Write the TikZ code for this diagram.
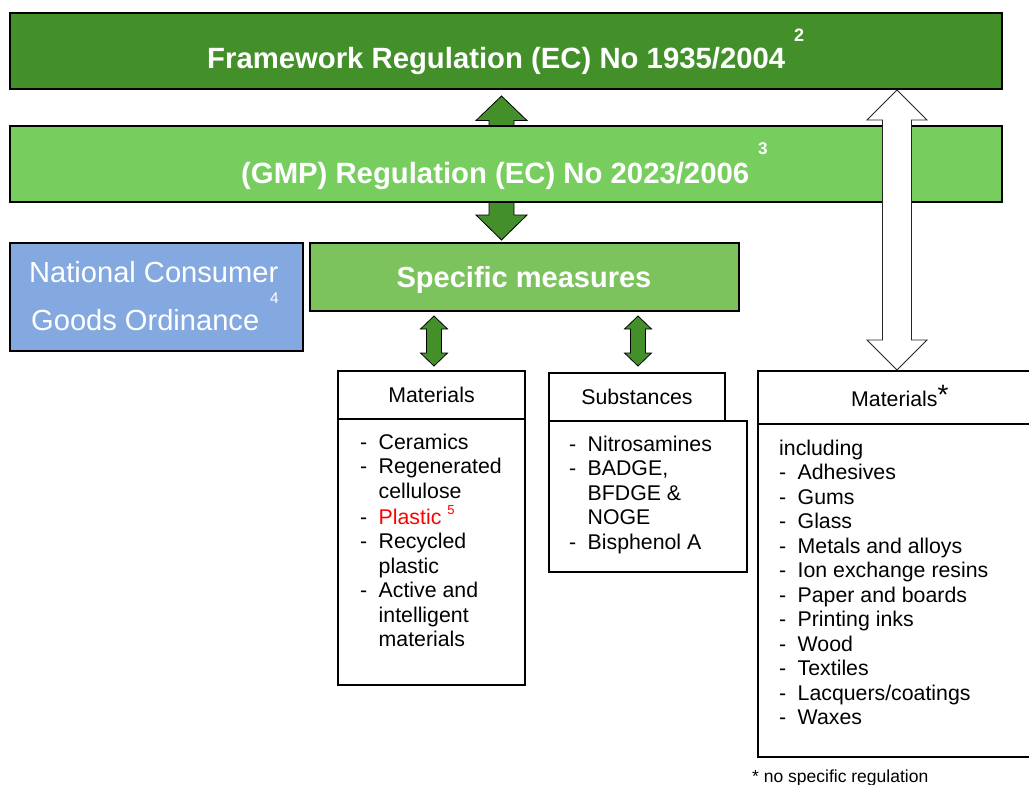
\documentclass[tikz,border=0pt]{standalone}
\usepackage{fontspec}
\setmainfont{Liberation Sans}
\usetikzlibrary{calc}
\definecolor{dkgreen}{HTML}{43902B}
\definecolor{ltgreen}{HTML}{77CE5F}
\definecolor{smgreen}{HTML}{7CC35E}
\definecolor{ncblue}{HTML}{84A9E0}
\newcommand\vdarrow[7]{%
  \draw[#1] let \p1=(#2), \p2=(#3) in
    (\x1,\y1) -- (\x1+#4pt,\y1-#6pt) -- (\x1+#5pt,\y1-#6pt) -- (\x1+#5pt,\y2+#7pt)
    -- (\x1+#4pt,\y2+#7pt) -- (\x1,\y2) -- (\x1-#4pt,\y2+#7pt) -- (\x1-#5pt,\y2+#7pt)
    -- (\x1-#5pt,\y1-#6pt) -- (\x1-#4pt,\y1-#6pt) -- cycle;}
\begin{document}
\begin{tikzpicture}[x=1pt,y=-1pt,
  box/.style={draw=black, line width=2pt, inner sep=0pt, anchor=north west},
  txt/.style={inner sep=0pt},
  big/.style={txt, text=white, font=\fontsize{29.3}{33.7}\selectfont\bfseries},
  lst/.style={txt, anchor=base west, font=\fontsize{21.3}{24.5}\selectfont},
  hdr/.style={font=\fontsize{21.3}{24.5}\selectfont},
  garrow/.style={fill=dkgreen, draw=black, line width=0.8pt},
  warrow/.style={fill=white, draw=black!85, line width=0.8pt}]
\clip (0,0) rectangle (1029,785);
% top framework box
\node[box, fill=dkgreen, minimum width=992, minimum height=76] (fw) at (9,12) {};
% boxes needed for arrow anchors
\node[box, fill=smgreen, minimum width=429, minimum height=68] (sm) at (309,242) {};
\node[box, fill=ncblue, minimum width=293, minimum height=108] (nc) at (9,242) {};
\node[box, fill=white, minimum width=187, minimum height=48, hdr] (mh) at (337,370) {Materials};
\node[box, fill=white, minimum width=187, minimum height=266] (mb) at (337,418) {};
\node[box, fill=white, minimum width=176, minimum height=48, hdr] (sh) at (548,372) {Substances};
\node[box, fill=white, minimum width=198, minimum height=151] (sb) at (548,420) {};
\node[box, fill=white, minimum width=290, minimum height=53] (rh) at (757,370) {};
\node[box, fill=white, minimum width=290, minimum height=333] (rb) at (757,423) {};
% arrow end points
\coordinate (gT) at ($(fw.south)+(-4.5,6)$);
\coordinate (gB) at ($(sm.north)+(-23,-2)$);
\coordinate (wT) at ($(fw.south)+(391,0)$);
\coordinate (wB) at ($(rh.north west)+(139,0)$);
\coordinate (m1T) at ($(sm.south -| mh.north)+(2.5,4)$);
\coordinate (m1B) at ($(mh.north)+(2.5,-4)$);
\coordinate (s1T) at ($(sm.south -| sh.north)+(1,4)$);
\coordinate (s1B) at ($(sh.north)+(1,-6)$);
% green arrow behind GMP box
\vdarrow{garrow}{gT}{gB}{25.5}{12.5}{24.5}{25}
% GMP box
\node[box, fill=ltgreen, minimum width=992, minimum height=76] (gmp) at (9,125) {};
% white arrow on top
\vdarrow{warrow}{wT}{wB}{30}{14.5}{30}{30}
% small arrows
\vdarrow{garrow}{m1T}{m1B}{13.5}{7.5}{13}{13}
\vdarrow{garrow}{s1T}{s1B}{13.5}{7.5}{13}{13}
% titles
\node[big, anchor=base west] (fwt) at (207,68.5) {Framework Regulation (EC) No 1935/2004};
\node[txt, anchor=base west, text=white, font=\fontsize{18}{20}\selectfont\bfseries] (fws) at (794,41) {2};
\node[big, anchor=base west] (gmpt) at (241,183.5) {(GMP) Regulation (EC) No 2023/2006};
\node[txt, anchor=base west, text=white, font=\fontsize{17}{19}\selectfont\bfseries] (gmps) at (758,154) {3};
\node[big, anchor=base, font=\fontsize{29}{33}\selectfont\bfseries] (smt) at (524,287) {Specific measures};
\node[txt, anchor=base west, text=white, font=\fontsize{29.1}{33}\selectfont] (nct1) at (29,282) {National Consumer};
\node[txt, anchor=base west, text=white, font=\fontsize{29.1}{33}\selectfont] (nct2) at (31,330) {Goods Ordinance};
\node[txt, anchor=base west, text=white, font=\fontsize{15.5}{17}\selectfont] (ncs) at (270,303) {4};
% right header
\node[txt, anchor=base west, hdr] (rht) at (851,406) {Materials{\fontsize{28}{28}\selectfont\raisebox{1.5pt}{*}}};
% lists
\node[lst] (ml) at (360,449) {\begin{tabular}[t]{@{}p{18.5pt}@{}l@{}}
- & Ceramics\\
- & Regenerated\\
  & cellulose\\
- & \textcolor{red}{Plastic}~\raisebox{10pt}{\fontsize{13}{13}\selectfont\textcolor{red}{5}}\\
- & Recycled\\
  & plastic\\
- & Active and\\
  & intelligent\\
  & materials
\end{tabular}};
\node[lst] (sl) at (569,451) {\begin{tabular}[t]{@{}p{18.5pt}@{}l@{}}
- & Nitrosamines\\
- & BADGE,\\
  & BFDGE \&\\
  & NOGE\\
- & Bisphenol A
\end{tabular}};
\node[lst] (rl) at (779,455) {\begin{tabular}[t]{@{}p{18.5pt}@{}l@{}}
\multicolumn{2}{@{}l@{}}{including}\\
- & Adhesives\\
- & Gums\\
- & Glass\\
- & Metals and alloys\\
- & Ion exchange resins\\
- & Paper and boards\\
- & Printing inks\\
- & Wood\\
- & Textiles\\
- & Lacquers/coatings\\
- & Waxes
\end{tabular}};
\node[txt, anchor=base west, font=\fontsize{17.5}{20}\selectfont] (foot) at (752,782) {* no specific regulation};
\end{tikzpicture}
\end{document}
